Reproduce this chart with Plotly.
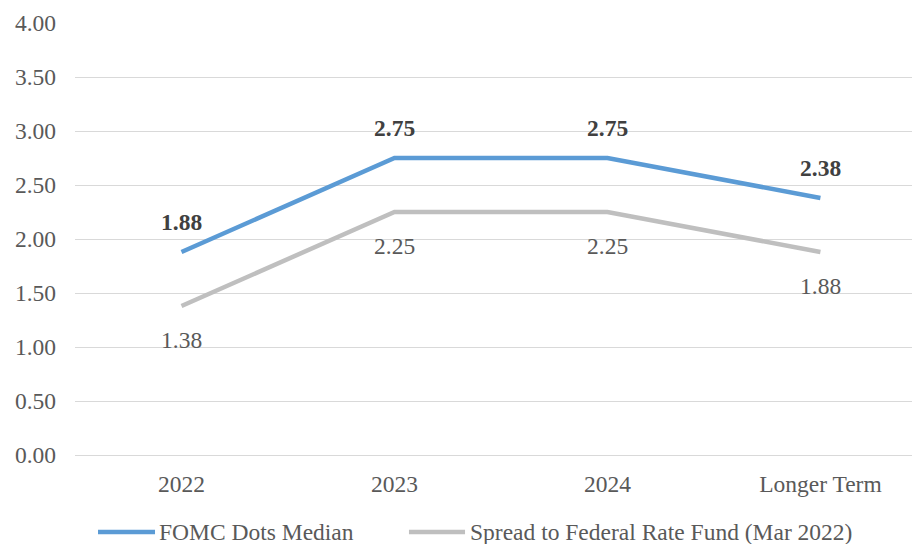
import plotly.graph_objects as go

# Projected policy rate path (percent)
categories = ["2022", "2023", "2024", "Longer Term"]
fomc_median = [1.88, 2.75, 2.75, 2.38]
fed_fund_spread = [1.38, 2.25, 2.25, 1.88]
series_names = ["FOMC Dots Median", "Spread to Federal Rate Fund (Mar 2022)"]

BLUE = "#5b9bd5"
GREY = "#bfbfbf"
TEXT = "#595959"
FONT = "Liberation Serif"
FS = 23.5

fig = go.Figure()
fig.add_trace(go.Scatter(x=categories, y=fomc_median, mode="lines",
                         line=dict(color=BLUE, width=4.5), name=series_names[0]))
fig.add_trace(go.Scatter(x=categories, y=fed_fund_spread, mode="lines",
                         line=dict(color=GREY, width=4.5), name=series_names[1]))

# Value labels: category index positions on the category axis
annotations = []
for i, v in enumerate(fomc_median):
    annotations.append(dict(x=i, y=v, text=f"<b>{v:.2f}</b>", showarrow=False,
                            yshift=30, yanchor="middle",
                            font=dict(family=FONT, size=FS, color="#404040")))
for i, v in enumerate(fed_fund_spread):
    annotations.append(dict(x=i, y=v, text=f"{v:.2f}", showarrow=False,
                            yshift=-34, yanchor="middle",
                            font=dict(family=FONT, size=FS, color=TEXT)))

# Legend drawn as line samples with labels under the plot
legend_items = [(0.0275, 0.0956, 0.098, BLUE), (0.399, 0.466, 0.4695, GREY)]
shapes = []
for (x0, x1, xt, col), name in zip(legend_items, series_names):
    shapes.append(dict(type="line", xref="paper", yref="paper", x0=x0, x1=x1,
                       y0=-0.178, y1=-0.178, line=dict(color=col, width=4.5)))
    annotations.append(dict(xref="paper", yref="paper", x=xt, y=-0.178,
                            xanchor="left", yanchor="middle", showarrow=False,
                            text=name, font=dict(family=FONT, size=FS, color=TEXT)))

fig.update_layout(
    width=912, height=544,
    margin=dict(l=75, r=0, t=23, b=89),
    plot_bgcolor="white", paper_bgcolor="white",
    showlegend=False,
    font=dict(family=FONT, size=FS, color=TEXT),
    annotations=annotations, shapes=shapes,
    xaxis=dict(type="category", range=[-0.5, 3.43], showgrid=False,
               showline=False, zeroline=False, ticks="", ticklabelstandoff=12,
               tickfont=dict(family=FONT, size=FS, color=TEXT)),
    yaxis=dict(range=[0, 4], dtick=0.5, tickformat=".2f", showgrid=True,
               gridcolor="#d9d9d9", gridwidth=1.3, zeroline=True,
               zerolinecolor="#d9d9d9", zerolinewidth=1.3, showline=False,
               ticks="", ticklabelstandoff=18,
               tickfont=dict(family=FONT, size=FS, color=TEXT)),
)

fig.write_html("out.html")
